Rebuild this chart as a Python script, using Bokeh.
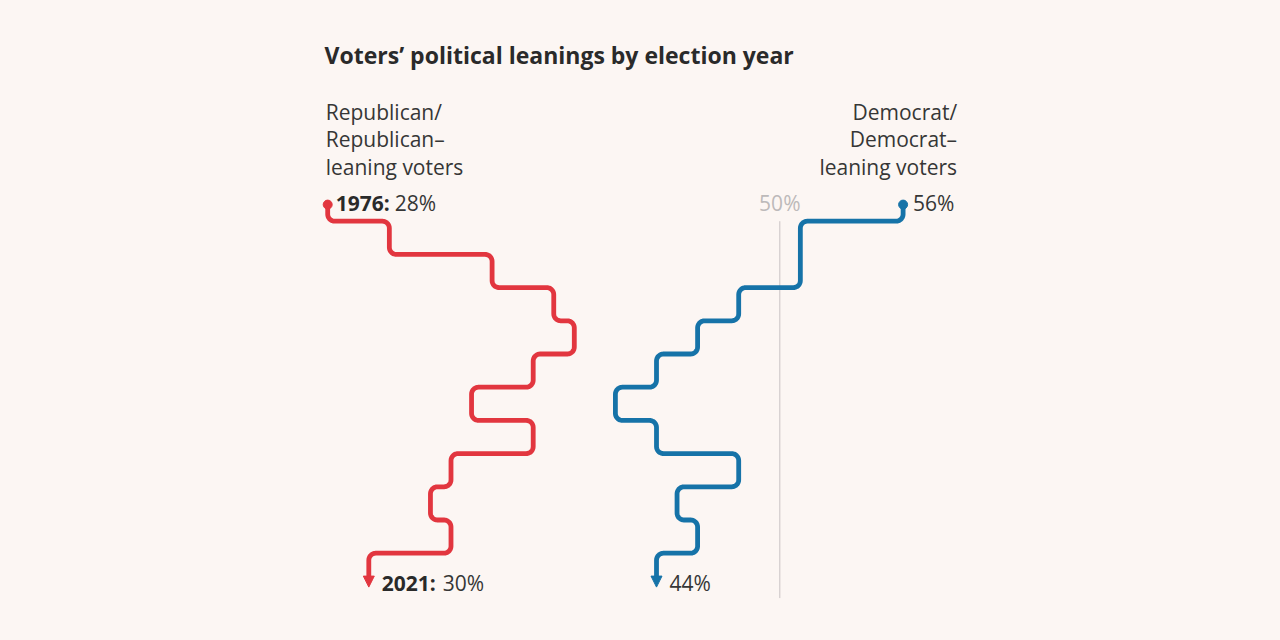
import numpy as np
from bokeh.plotting import figure
from bokeh.models import Range1d, Label, Arrow, NormalHead
from bokeh.embed import file_html
from bokeh.resources import INLINE

# ---------------- data ----------------
title_text = "Voters’ political leanings by election year"
years = [1976, 1980, 1984, 1988, 1992, 1996, 2000, 2004, 2008, 2012, 2016, 2020]
rep_share = [28, 31, 36, 39, 40, 38, 35, 38, 34, 33, 34, 30]
dem_share = [56, 51, 51, 48, 46, 44, 42, 44, 48, 45, 46, 44]
latest_year = 2021
rep_lines = ["Republican/", "Republican–", "leaning voters"]
dem_lines = ["Democrat/", "Democrat–", "leaning voters"]
reference_share = 50

# ---------------- style ----------------
BG = "#fcf6f3"
RED = "#e2363f"
BLUE = "#1673a8"
TXT = "#363636"
FONT = "Open Sans"
W, H = 1264, 624
PX_PER_PCT = 20.55
PX_PER_YR = 8.3
X0 = reference_share - 779.3 / PX_PER_PCT
Y_TOP = (years[0] + years[1]) / 2 - 220.7 / PX_PER_YR
RADIUS = 7.0

p = figure(width=W, height=H,
           x_range=Range1d(X0, X0 + W / PX_PER_PCT),
           y_range=Range1d(Y_TOP + H / PX_PER_YR, Y_TOP),
           output_backend="svg", toolbar_location=None,
           x_axis_type=None, y_axis_type=None, min_border=0)
p.background_fill_color = BG
p.border_fill_color = BG
p.outline_line_color = None


def step_path(vals):
    pts = [(vals[0], years[0])]
    for i in range(1, len(vals)):
        t = (years[i - 1] + years[i]) / 2
        pts.append((vals[i - 1], t))
        pts.append((vals[i], t))
    pts.append((vals[-1], latest_year))
    P = [np.array([(x - X0) * PX_PER_PCT, (y - Y_TOP) * PX_PER_YR]) for x, y in pts]
    clean = [P[0]]
    for q in P[1:]:
        if np.linalg.norm(q - clean[-1]) > 1e-6:
            clean.append(q)
    pruned = [clean[0]]
    for i in range(1, len(clean) - 1):
        a, b, c = pruned[-1], clean[i], clean[i + 1]
        d1, d2 = b - a, c - b
        if abs(d1[0] * d2[1] - d1[1] * d2[0]) < 1e-9:
            continue
        pruned.append(b)
    pruned.append(clean[-1])
    out = [pruned[0]]
    for i in range(1, len(pruned) - 1):
        A, Pt, B = pruned[i - 1], pruned[i], pruned[i + 1]
        la, lb = np.linalg.norm(A - Pt), np.linalg.norm(B - Pt)
        d1, d2 = (A - Pt) / la, (B - Pt) / lb
        rr = min(RADIUS, la / 2, lb / 2)
        c = Pt + d1 * rr + d2 * rr
        for th in np.linspace(0, np.pi / 2, 10):
            out.append(c - d2 * rr * np.cos(th) - d1 * rr * np.sin(th))
    out.append(pruned[-1])
    xs = [q[0] / PX_PER_PCT + X0 for q in out]
    ys = [q[1] / PX_PER_YR + Y_TOP for q in out]
    return xs, ys


# reference line at 50%
p.segment(x0=[reference_share], y0=[(years[0] + years[1]) / 2],
          x1=[reference_share], y1=[latest_year + 20 / PX_PER_YR],
          line_color="#c9c4c4", line_width=1)

for vals, col in ((rep_share, RED), (dem_share, BLUE)):
    xs, ys = step_path(vals)
    p.line(xs, ys, line_color=col, line_width=4.8, line_join="round")
    p.scatter([vals[0]], [years[0]], size=9, color=col)
    p.add_layout(Arrow(end=NormalHead(size=11, fill_color=col, line_color=col, line_width=1),
                       x_start=vals[-1], y_start=latest_year,
                       x_end=vals[-1], y_end=latest_year + 9 / PX_PER_YR,
                       line_color=col, line_width=4.8))


def lab(text, x, y, xo=0, yo=0, size=21, color=TXT, style="normal", align="left",
        baseline="middle", units="data"):
    p.add_layout(Label(x=x, y=y, x_offset=xo, y_offset=yo, text=text,
                       text_font=FONT, text_font_size=f"{size}px", text_color=color,
                       text_font_style=style, text_align=align, text_baseline=baseline,
                       x_units=units, y_units=units))


# title
lab(title_text, 324, H - 54, size=23, color="#2a2a2a", style="bold",
    baseline="alphabetic", units="screen")

# series labels
for k, t in enumerate(rep_lines):
    lab(t, rep_share[0], years[0], xo=-2, yo=38 + 27.5 * (2 - k), baseline="alphabetic")
for k, t in enumerate(dem_lines):
    lab(t, dem_share[0], years[0], xo=54, yo=38 + 27.5 * (2 - k), align="right",
        baseline="alphabetic")

# start values
lab(f"{years[0]}:", rep_share[0], years[0], xo=8, yo=2, style="bold", color="#2a2a2a")
lab(f"{rep_share[0]}%", rep_share[0], years[0], xo=67, yo=2)
lab(f"{dem_share[0]}%", dem_share[0], years[0], xo=10, yo=2)
lab(f"{reference_share}%", reference_share, years[0], yo=2, color="#bdbaba",
    align="center")

# end values
lab(f"{latest_year}:", rep_share[-1], latest_year, xo=13, yo=-5, style="bold",
    color="#2a2a2a")
lab(f"{rep_share[-1]}%", rep_share[-1], latest_year, xo=74, yo=-5)
lab(f"{dem_share[-1]}%", dem_share[-1], latest_year, xo=13, yo=-5)

html = file_html(p, INLINE)
html = html.replace("<head>", "<head><style>html,body{background:%s;}</style>" % BG, 1)
open("out.html", "w").write(html)
